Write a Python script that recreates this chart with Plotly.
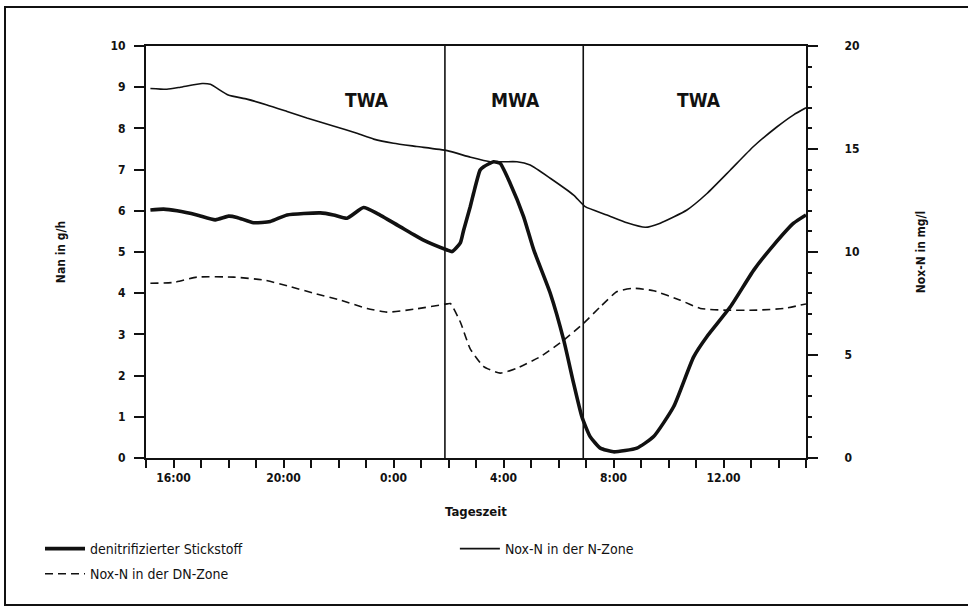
import plotly.graph_objects as go

# Time axis: hours after 15:00 (0 = 15:00, 24 = 15:00 next day)
tick_hours = [1, 5, 9, 13, 17, 21]
tick_labels = ["16:00", "20:00", "0:00", "4:00", "8:00", "12.00"]
phase_bounds = [10.87, 15.9]
phase_names = ["TWA", "MWA", "TWA"]
phase_label_t = [8.05, 13.43, 20.1]

# denitrifizierter Stickstoff (g/h, left axis)
den_t = [0.16, 0.64, 1.13, 1.85, 2.52, 3.0, 3.31, 3.91, 4.52, 5.13, 6.34, 6.82, 7.31, 7.91,
         8.4, 9.25, 10.09, 10.95, 11.13, 11.43, 11.55, 11.79, 11.91, 12.15, 12.28, 12.64,
         12.88, 13.24, 13.73, 14.1, 14.7, 15.19, 15.55, 15.85, 16.15, 16.52, 17.0, 17.85,
         18.46, 19.19, 19.91, 20.4, 21.25, 22.1, 22.8, 23.55, 24.0]
den_v = [6.02, 6.04, 6.00, 5.90, 5.78, 5.87, 5.84, 5.71, 5.74, 5.90, 5.95, 5.90, 5.82, 6.08,
         5.94, 5.61, 5.29, 5.05, 5.01, 5.22, 5.53, 6.1, 6.42, 6.99, 7.07, 7.19,
         7.15, 6.67, 5.86, 5.05, 4.0, 2.86, 1.81, 1.0, 0.52, 0.24, 0.15, 0.24,
         0.52, 1.25, 2.45, 2.95, 3.67, 4.56, 5.15, 5.70, 5.90]

# Nox-N in der N-Zone (mg/l, right axis)
nz_t = [0.16, 0.76, 1.25, 2.04, 2.34, 2.99, 3.67, 4.4, 5.13, 5.85, 6.81, 7.67, 8.28, 9.0,
        9.85, 10.95, 11.8, 12.52, 13.49, 13.97, 14.7, 15.55, 15.97, 16.76, 17.49, 18.16,
        18.7, 19.67, 20.4, 21.25, 22.09, 22.95, 23.55, 24.0]
nz_v = [17.94, 17.9, 18.0, 18.18, 18.14, 17.62, 17.42, 17.14, 16.82, 16.5, 16.12, 15.76,
        15.48, 15.28, 15.12, 14.92, 14.6, 14.38, 14.38, 14.22, 13.58, 12.76, 12.2, 11.8,
        11.42, 11.2, 11.4, 12.04, 12.84, 13.98, 15.12, 16.08, 16.66, 17.0]

# Nox-N in der DN-Zone (mg/l, right axis)
dn_t = [0.16, 1.0, 1.85, 3.19, 4.28, 5.25, 6.09, 7.07, 8.04, 8.76, 9.73, 10.95, 11.07,
        11.43, 11.79, 12.28, 12.88, 13.49, 14.34, 15.19, 15.91, 16.52, 17.13, 17.73, 18.46,
        19.43, 20.16, 21.0, 22.22, 23.19, 24.0]
dn_v = [8.48, 8.52, 8.78, 8.78, 8.64, 8.32, 8.0, 7.66, 7.26, 7.08, 7.22, 7.48, 7.5,
        6.6, 5.3, 4.44, 4.12, 4.36, 4.92, 5.72, 6.54, 7.34, 8.08, 8.24, 8.12,
        7.66, 7.26, 7.18, 7.18, 7.26, 7.48]

FONT = "DejaVu Sans Condensed"
BLACK = "#111111"

fig = go.Figure()
fig.add_trace(go.Scatter(x=den_t, y=den_v, mode="lines",
                         line=dict(color=BLACK, width=3.6, shape="spline", smoothing=0.5),
                         name="denitrifizierter Stickstoff", legend="legend", legendgroup="a"))
fig.add_trace(go.Scatter(x=nz_t, y=nz_v, mode="lines", yaxis="y2",
                         line=dict(color=BLACK, width=1.6, shape="spline", smoothing=0.5),
                         name="Nox-N in der N-Zone", legend="legend2"))
fig.add_trace(go.Scatter(x=dn_t, y=dn_v, mode="lines", yaxis="y2",
                         line=dict(color=BLACK, width=1.6, dash="8px,5px", shape="spline", smoothing=0.5),
                         name="Nox-N in der DN-Zone", legend="legend", legendgroup="b"))

shapes = []
for b in phase_bounds:
    shapes.append(dict(type="line", xref="x", yref="paper", x0=b, x1=b, y0=0, y1=1,
                       line=dict(color=BLACK, width=1.6)))
# outer frame of the scanned figure
L, T, B = (5 - 146) / 660, (458 - 7) / 412, (458 - 605) / 412
R = (975 - 146) / 660
shapes.append(dict(type="rect", xref="paper", yref="paper", x0=L, x1=R, y0=B, y1=T,
                   line=dict(color=BLACK, width=2), layer="below"))

annotations = []
for txt, xh in zip(phase_names, phase_label_t):
    annotations.append(dict(x=xh, y=8.7, xref="x", yref="y", text="<b>" + txt + "</b>",
                            showarrow=False, font=dict(family=FONT, size=19, color=BLACK)))

tickfont = dict(family=FONT, size=12, color=BLACK, weight="bold")
legfont = dict(family=FONT, size=14, color=BLACK)

fig.update_layout(
    width=968, height=611,
    margin=dict(l=146, r=162, t=46, b=153, autoexpand=False),
    paper_bgcolor="white", plot_bgcolor="white",
    font=dict(family=FONT, color=BLACK),
    shapes=shapes, annotations=annotations,
    xaxis=dict(range=[0, 24], tickvals=tick_hours, ticktext=tick_labels,
               showline=True, linecolor=BLACK, linewidth=2, mirror=True,
               ticks="outside", ticklen=8, tickwidth=2, tickcolor=BLACK,
               minor=dict(dtick=1, ticks="outside", ticklen=8, tickwidth=2, tickcolor=BLACK),
               showgrid=False, zeroline=False, tickfont=tickfont,
               title=dict(text="<b>Tageszeit</b>", font=dict(family=FONT, size=13, color=BLACK), standoff=22)),
    yaxis=dict(range=[0, 10], dtick=1, showline=True, linecolor=BLACK, linewidth=2,
               ticks="outside", ticklen=10, tickwidth=2, tickcolor=BLACK, ticklabelstandoff=6,
               showgrid=False, zeroline=False, tickfont=tickfont,
               title=dict(text="<b>Nan in g/h</b>", font=dict(family=FONT, size=12, color=BLACK), standoff=42)),
    yaxis2=dict(range=[0, 20], dtick=5, overlaying="y", side="right",
                showline=True, linecolor=BLACK, linewidth=2,
                ticks="outside", ticklen=10, tickwidth=2, tickcolor=BLACK, ticklabelstandoff=24,
                minor=dict(dtick=1, ticks="outside", ticklen=4, tickwidth=2, tickcolor=BLACK),
                showgrid=False, zeroline=False, tickfont=tickfont,
                title=dict(text="<b>Nox-N in mg/l</b>", font=dict(family=FONT, size=12, color=BLACK), standoff=58)),
    legend=dict(orientation="v", x=-0.1606, xanchor="left", y=-0.182, yanchor="top",
                itemwidth=40, tracegroupgap=4, bgcolor="rgba(0,0,0,0)", font=legfont),
    legend2=dict(orientation="v", x=0.468, xanchor="left", y=-0.182, yanchor="top",
                 itemwidth=40, bgcolor="rgba(0,0,0,0)", font=legfont),
    showlegend=True,
)

fig.write_html("out.html", config={"displayModeBar": False},
               post_script="document.body.style.margin='0';document.body.style.overflow='hidden';")
